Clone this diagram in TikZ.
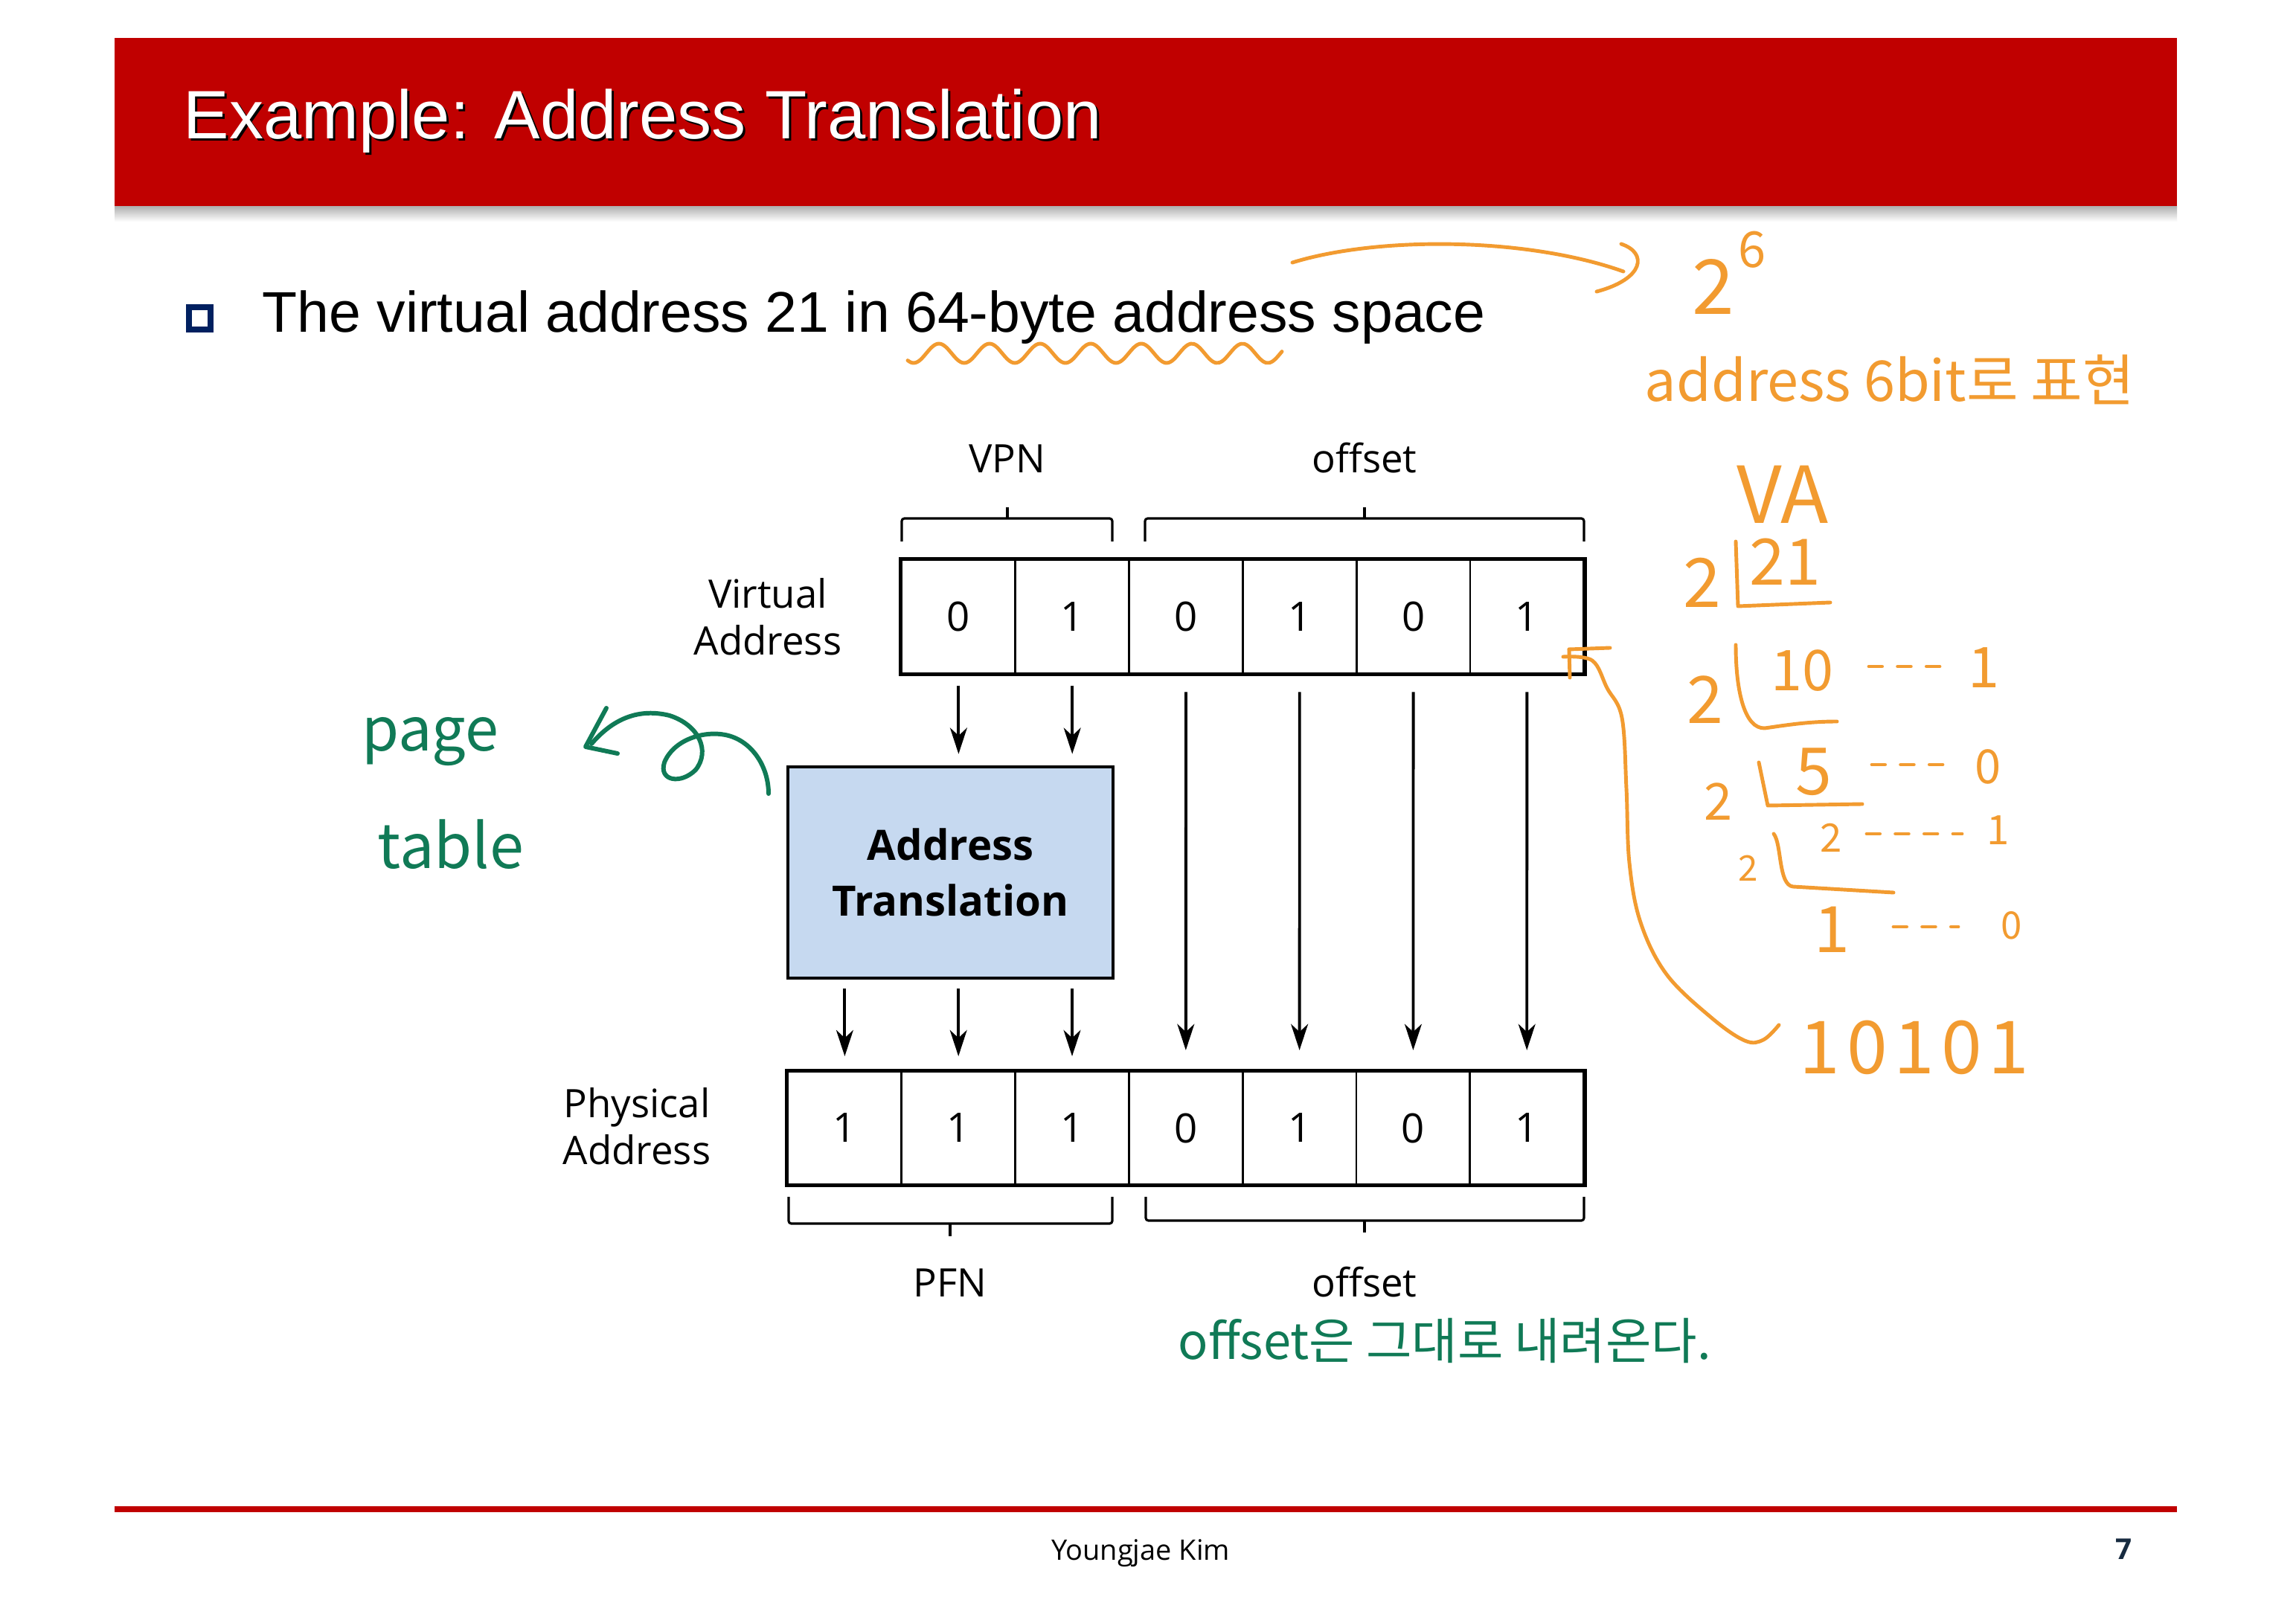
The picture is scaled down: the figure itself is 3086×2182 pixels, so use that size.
\documentclass[tikz,border=0pt]{standalone}
\usepackage{fontspec}
\usepackage{tikz}
\usetikzlibrary{arrows.meta, positioning}
\setmainfont{Liberation Sans}
\newfontfamily\diagfont{Open Sans}
\newfontfamily\handfont{Noto Sans CJK KR}
\definecolor{titlered}{RGB}{192,0,0}
\definecolor{bulletnavy}{RGB}{0,32,96}
\definecolor{boxblue}{RGB}{198,217,240}
\definecolor{penorange}{RGB}{242,155,48}
\definecolor{pengreen}{RGB}{16,122,86}
\definecolor{pagenavy}{RGB}{23,43,64}
\newcommand{\inkfont}[1]{\handfont\fontsize{#1}{#1}\selectfont}

\tikzset{
  bit/.style={draw, line width=0.8pt, minimum width=1.528cm, minimum height=1.52cm,
    inner sep=0pt, font=\diagfont\fontsize{15.5}{18}\selectfont},
  lbl/.style={font=\diagfont\fontsize{15}{17.9}\selectfont, align=center, inner sep=0pt},
  xlatebox/.style={draw, fill=boxblue, line width=1.2pt, minimum width=4.37cm,
    minimum height=2.84cm, align=center, font=\diagfont\bfseries\fontsize{16}{21.3}\selectfont},
  arr/.style={-{Stealth[length=10pt,width=6.5pt,inset=3pt]}, line width=1.1pt},
  brace/.style={line width=0.9pt, rounded corners=1pt},
  inkO/.style={penorange, line width=1.4pt, line cap=round, line join=round},
  inkG/.style={pengreen, line width=1.7pt, line cap=round, line join=round},
  noteO/.style={text=penorange, inner sep=0pt},
  noteG/.style={text=pengreen, inner sep=0pt}
}

\begin{document}
\begin{tikzpicture}[x=0.01cm, y=-0.01cm]
    \fill[white] (0,0) rectangle (3086,2182);
    \useasboundingbox (0,0) rectangle (3086,2182);

    % Title bar
    \fill[titlered] (154,51) rectangle (2926,278);
    \shade[top color=black!30, bottom color=white] (154,278) rectangle (2926,298);
    \node[anchor=base west, inner sep=0pt, text=black, font=\fontsize{26.2}{30}\selectfont] (titleshadow) at (249,190) {Example: Address Translation};
    \node[anchor=base west, inner sep=0pt, text=white, font=\fontsize{26.2}{30}\selectfont] (title) at (246,187) {Example: Address Translation};

    % Bullet
    \draw[bulletnavy, line width=2.3pt] (254,413) rectangle (283,443);
    \node[anchor=base west, inner sep=0pt, font=\fontsize{21.9}{26}\selectfont] (bullet) at (352,447) {The virtual address 21 in 64-byte address space};

    % Virtual address bits
    \foreach \b [count=\i] in {0,1,0,1,0,1} {
        \node[bit] (va\i) at ({1212+152.8*(\i-0.5)}, 829) {\b};
    }
    \draw[line width=1.4pt] (va1.north west) rectangle (va6.south east);
    \node[lbl] (valbl) at (1032,829) {Virtual\\Address};

    % Braces above
    \draw[brace] (1212,728) -- (1212,697) -- (1495,697) -- (1495,728);
    \draw[brace] (1354,697) -- (1354,682);
    \draw[brace] (1539,728) -- (1539,697) -- (2129,697) -- (2129,728);
    \draw[brace] (1834,697) -- (1834,682);
    \node[lbl, anchor=base] (vpn) at (1354,636) {VPN};
    \node[lbl, anchor=base] (voff) at (1834,636) {offset};

    % Translation box
    \node[xlatebox] (xlate) at (1277.5,1173) {Address\\Translation};

    % Physical address bits
    \foreach \b [count=\i] in {1,1,1,0,1,0,1} {
        \node[bit] (pa\i) at ({1059+152.8*(\i-0.5)}, 1516.5) {\b};
    }
    \draw[line width=1.4pt] (pa1.north west) rectangle (pa7.south east);
    \node[lbl] (palbl) at (856,1514) {Physical\\Address};

    % Braces below
    \draw[brace] (1060,1609) -- (1060,1645) -- (1495,1645) -- (1495,1609);
    \draw[brace] (1277,1645) -- (1277,1662);
    \draw[brace] (1540,1609) -- (1540,1641) -- (2129,1641) -- (2129,1609);
    \draw[brace] (1834,1641) -- (1834,1657);
    \node[lbl, anchor=base] (pfn) at (1277,1743) {PFN};
    \node[lbl, anchor=base] (poff) at (1834,1743) {offset};

    % Arrows
    \foreach \i in {1,2} {
        \draw[arr, shorten <=4.3pt, shorten >=4.3pt] (va\i.south) -- (va\i.south |- xlate.north);
    }
    \foreach \i/\j in {3/4, 4/5, 5/6, 6/7} {
        \draw[arr, shorten <=6.8pt, shorten >=7.7pt] (va\i.south) -- (pa\j.north);
    }
    \foreach \i in {1,2,3} {
        \draw[arr, shorten <=3.4pt, shorten >=5.4pt] (pa\i.north |- xlate.south) -- (pa\i.north);
    }

    % Footer
    \draw[titlered, line width=2.3pt] (154,2029) -- (2926,2029);
    \node[anchor=base, inner sep=0pt, font=\diagfont\fontsize{10.8}{13}\selectfont] (author) at (1533,2097) {Youngjae Kim};
    \node[anchor=base, inner sep=0pt, text=pagenavy, font=\diagfont\bfseries\fontsize{11}{13}\selectfont] (pageno) at (2855,2096) {7};

    % Orange notes
    \draw[inkO] plot[domain=1220:1723, samples=120, smooth] (\x, {475-13*sin((\x-1245)/68*360)});
    \draw[inkO] (1737,353) .. controls (1850,318) and (2050,318) .. (2182,365);
    \draw[inkO] (2179,328) .. controls (2215,340) and (2210,375) .. (2146,392);
    \node[noteO, anchor=base, font=\inkfont{29}] (twoexp) at (2303,423) {2};
    \node[noteO, anchor=base, font=\inkfont{19}] (sixexp) at (2355,360) {6};
    \node[noteO, anchor=base west, font=\inkfont{21.5}] (sixbit) at (2210,540) {address 6bit로 표현};
    \node[noteO, anchor=base, font=\inkfont{30}] (vanote) at (2396,704) {VA};

    % Repeated division by 2
    \node[noteO, anchor=base, font=\inkfont{26}] (dtwoA) at (2288,817) {2};
    \node[noteO, anchor=base, font=\inkfont{24.5}] (dnumA) at (2399,787) {21};
    \draw[inkO] (2333,728) -- (2336,815) -- (2460,810);
    \node[noteO, anchor=base, font=\inkfont{25}] (dtwoB) at (2292,972) {2};
    \node[noteO, anchor=base, font=\inkfont{21.5}] (dnumB) at (2422,929) {10};
    \node[noteO, anchor=base, font=\inkfont{21.5}] (dremB) at (2666,925) {1};
    \draw[inkO] (2333,867) .. controls (2333,930) and (2345,980) .. (2372,979) .. controls (2400,975) and (2430,970) .. (2469,970);
    \node[noteO, anchor=base, font=\inkfont{19.5}] (dtwoC) at (2310,1102) {2};
    \node[noteO, anchor=base, font=\inkfont{25}] (dnumC) at (2438,1068) {5};
    \node[noteO, anchor=base, font=\inkfont{18}] (dremC) at (2672,1054) {0};
    \draw[inkO] (2364,1025) -- (2376,1083) -- (2503,1081);
    \node[noteO, anchor=base, font=\inkfont{13.5}] (dtwoD) at (2350,1184) {2};
    \node[noteO, anchor=base, font=\inkfont{15}] (dnumD) at (2461,1146) {2};
    \node[noteO, anchor=base, font=\inkfont{15.5}] (dremD) at (2686,1135) {1};
    \draw[inkO] (2384,1121) .. controls (2395,1135) and (2390,1190) .. (2410,1192) -- (2545,1200);
    \node[noteO, anchor=base, font=\inkfont{24.5}] (dnumE) at (2462,1280) {1};
    \node[noteO, anchor=base, font=\inkfont{14.5}] (dremE) at (2704,1262) {0};
    \foreach \xa/\xb/\yy in {2512/2625/896, 2516/2622/1028, 2509/2637/1121, 2545/2632/1246} {
        \draw[inkO, dash pattern=on 5pt off 6pt] (\xa,\yy) -- (\xb,\yy);
    }
    \node[noteO, anchor=base west, font=\inkfont{28}\addfontfeature{LetterSpace=9}] (binary) at (2418,1443) {10101};

    % Bracket from the last bit down to the result
    \draw[inkO] (2109,873) -- (2164,871);
    \draw[inkO] (2109,873) -- (2110,911);
    \draw[inkO] plot[smooth, tension=0.6] coordinates {(2101,883) (2140,888) (2160,925) (2180,965) (2186,1060) (2190,1160) (2205,1240) (2240,1310) (2300,1368) (2345,1399) (2370,1398) (2391,1378)};

    % Green notes
    \node[noteG, anchor=base, font=\inkfont{23}] (pagenote) at (578,1010) {page};
    \node[noteG, anchor=base, font=\inkfont{23.5}] (tablenote) at (606,1167) {table};
    \draw[inkG] (1033,1067) .. controls (1033,1030) and (1010,995) .. (975,988)
        .. controls (945,982) and (905,995) .. (893,1025)
        .. controls (885,1050) and (915,1055) .. (935,1035)
        .. controls (955,1010) and (940,975) .. (900,962)
        .. controls (860,952) and (825,965) .. (795,1000);
    \draw[inkG] (815,952) -- (787,1004) -- (830,1013);
    \node[noteG, anchor=base west, font=\inkfont{19}] (keepnote) at (1583,1827) {offset은 그대로 내려온다.};
\end{tikzpicture}
\end{document}
